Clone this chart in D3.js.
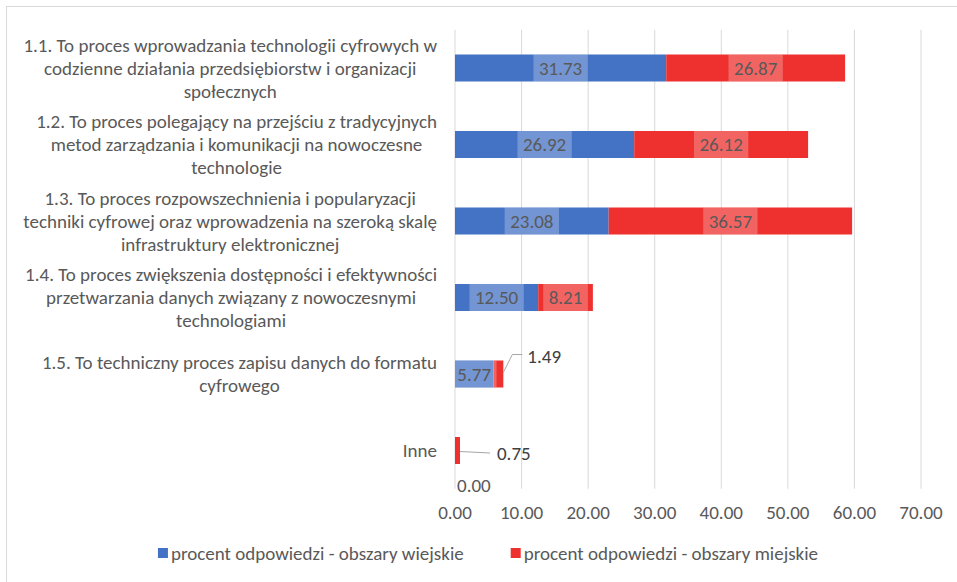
<!DOCTYPE html>
<html lang="pl">
<head>
  <meta charset="UTF-8">
  <title>Rozumienie cyfryzacji - obszary wiejskie i miejskie</title>
  <script src="https://d3js.org/d3.v7.min.js"></script>
  <style>
    body { margin: 0; background: #fff; }
    text { font-family: Calibri, Carlito, Lato, sans-serif; fill: #595959; font-size: 19px; }
  </style>
</head>
<body>
<svg id="chart"></svg>

<script>
  // categories, already wrapped the way the chart shows them
  var categories = [
    ["1.1. To proces wprowadzania technologii cyfrowych w", "codzienne działania przedsiębiorstw i organizacji", "społecznych"],
    ["1.2. To proces polegający na przejściu z tradycyjnych", "metod zarządzania i komunikacji na nowoczesne", "technologie"],
    ["1.3. To proces rozpowszechnienia i popularyzacji", "techniki cyfrowej oraz wprowadzenia na szeroką skalę", "infrastruktury elektronicznej"],
    ["1.4. To proces zwiększenia dostępności i efektywności", "przetwarzania danych związany z nowoczesnymi", "technologiami"],
    ["1.5. To techniczny proces zapisu danych do formatu", "cyfrowego"],
    ["Inne"]
  ];
  var rural = [31.73, 26.92, 23.08, 12.50, 5.77, 0.00];
  var urban = [26.87, 26.12, 36.57, 8.21, 1.49, 0.75];
  var seriesNames = ["procent odpowiedzi - obszary wiejskie", "procent odpowiedzi - obszary miejskie"];
  var xTicks = [0, 10, 20, 30, 40, 50, 60, 70];

  var colors = ["#4472c4", "#ee302e"];

  var W = 957, H = 582;
  var plotLeft = 455, plotRight = 921, plotTop = 29.75, plotBottom = 488.75;

  var svg = d3.select("#chart").attr("width", W).attr("height", H);

  // chart border
  svg.append("rect")
    .attr("x", 6.5).attr("y", 6.5)
    .attr("width", 1000).attr("height", 1000)
    .attr("fill", "none").attr("stroke", "#d9d9d9");

  var x = d3.scaleLinear().domain([0, 70]).range([plotLeft, plotRight]);
  var y = d3.scaleBand()
    .domain(d3.range(categories.length))
    .range([plotTop, plotBottom])
    .paddingInner(0.647)
    .paddingOuter(0.3235);

  // gridlines
  svg.append("g").selectAll("line")
    .data(xTicks)
    .enter().append("line")
    .attr("x1", function(d) { return x(d); })
    .attr("x2", function(d) { return x(d); })
    .attr("y1", plotTop).attr("y2", plotBottom)
    .attr("stroke", "#d9d9d9").attr("stroke-width", 1);

  // tick labels
  svg.append("g").selectAll("text")
    .data(xTicks)
    .enter().append("text")
    .attr("x", function(d) { return x(d); })
    .attr("y", 512)
    .attr("dy", "0.35em")
    .attr("text-anchor", "middle")
    .text(function(d) { return d.toFixed(2); });

  // category labels: lines centred on each other, block right aligned
  var labelRight = 437, lineH = 23;
  categories.forEach(function(lines, i) {
    var g = svg.append("g");
    var cy = y(i) + y.bandwidth() / 2;
    var t = g.selectAll("text")
      .data(lines)
      .enter().append("text")
      .attr("text-anchor", "middle")
      .attr("dy", "0.35em")
      .attr("y", function(d, j) { return cy + (j - (lines.length - 1) / 2) * lineH; })
      .text(function(d) { return d; });
    var maxW = 0;
    t.each(function() { maxW = Math.max(maxW, this.getComputedTextLength()); });
    t.attr("x", labelRight - maxW / 2);
  });

  // stacked segments
  var rows = categories.map(function(c, i) {
    return [
      { i: i, s: 0, x0: 0, x1: rural[i], v: rural[i] },
      { i: i, s: 1, x0: rural[i], x1: rural[i] + urban[i], v: urban[i] }
    ];
  });
  var segs = [].concat.apply([], rows);

  svg.append("g").selectAll("rect")
    .data(segs)
    .enter().append("rect")
    .attr("x", function(d) { return x(d.x0); })
    .attr("width", function(d) { return x(d.x1) - x(d.x0); })
    .attr("y", function(d) { return y(d.i); })
    .attr("height", y.bandwidth())
    .attr("fill", function(d) { return colors[d.s]; });

  // data labels
  var labelG = svg.append("g");
  // callouts for the segments too thin to hold their label
  var calloutOffsets = { "4-1": { dy: -18, elbow: true }, "5-1": { dy: 2.5, elbow: false } };

  segs.forEach(function(d) {
    var cy = y(d.i) + y.bandwidth() / 2;
    var txt = d.v.toFixed(2);
    var key = d.i + "-" + d.s;
    if (d.v === 0) {
      labelG.append("text")
        .attr("x", x(d.x0) + 2).attr("y", cy + 35).attr("dy", "0.35em")
        .text(txt);
      return;
    }
    if (calloutOffsets[key]) {
      var o = calloutOffsets[key], ex = x(d.x1);
      var pts = o.elbow
        ? [[ex, cy - 1.5], [ex + 9, cy + o.dy - 1.5], [ex + 19, cy + o.dy - 1.5]]
        : [[ex, cy + 1], [ex + 30, cy + o.dy]];
      labelG.append("path")
        .attr("d", d3.line()(pts))
        .attr("fill", "none").attr("stroke", "#a6a6a6").attr("stroke-width", 1);
      labelG.append("text")
        .attr("x", pts[pts.length - 1][0] + (o.elbow ? 5 : 7))
        .attr("y", cy + o.dy).attr("dy", "0.35em")
        .style("fill", "#404040").text(txt);
      return;
    }
    var cx = (x(d.x0) + x(d.x1)) / 2;
    var box = labelG.append("rect");
    var t = labelG.append("text")
      .attr("x", cx).attr("y", cy).attr("dy", "0.35em")
      .attr("text-anchor", "middle")
      .text(txt);
    var tw = t.node().getComputedTextLength();
    var bx0 = Math.max(x(0), cx - tw / 2 - 5.5), bx1 = cx + tw / 2 + 5.5;
    box.attr("x", bx0).attr("width", bx1 - bx0)
      .attr("y", y(d.i)).attr("height", y.bandwidth())
      .attr("fill", "#fff").attr("fill-opacity", 0.25);
  });

  // legend
  var legend = svg.append("g");
  var items = seriesNames.map(function(name, k) {
    var g = legend.append("g");
    g.append("rect").attr("width", 10).attr("height", 10).attr("y", -5).attr("fill", colors[k]);
    var t = g.append("text").attr("x", 13).attr("dy", "0.35em").text(name);
    return { g: g, w: 13 + t.node().getComputedTextLength() };
  });
  var gap = 47;
  var total = d3.sum(items, function(d) { return d.w; }) + gap;
  var lx = 488 - total / 2;
  items.forEach(function(it) {
    it.g.attr("transform", "translate(" + lx + ",553)");
    lx += it.w + gap;
  });
</script>
</body>
</html>
